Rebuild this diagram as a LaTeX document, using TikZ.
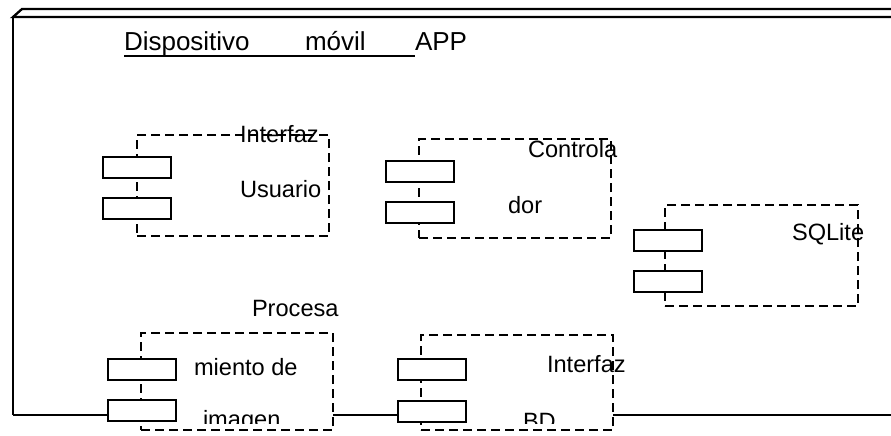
\documentclass[tikz,border=0pt]{standalone}
\usepackage{fontspec}
\setmainfont{Liberation Sans}
\begin{document}
\begin{tikzpicture}[x=1pt,y=-1pt,
  dbox/.style={draw, line width=2.3pt, dash pattern=on 9pt off 5pt, inner sep=0pt, outer sep=0pt, anchor=north west},
  port/.style={draw, line width=2.3pt, fill=white, inner sep=0pt, outer sep=0pt, anchor=north west, minimum width=68pt, minimum height=21pt},
  lbl/.style={inner sep=0pt, outer sep=0pt, anchor=base west, font=\fontsize{23.6}{28}\selectfont},
  ttl/.style={inner sep=0pt, outer sep=0pt, anchor=base west, font=\fontsize{26}{30}\selectfont},
  wire/.style={line width=2.3pt}]
\useasboundingbox (0,0) rectangle (891,436);
% frame
\coordinate (fTL) at (22,9);
\coordinate (fTR) at (891,9);
\coordinate (fIL) at (13,17);
\coordinate (fIR) at (891,17);
\coordinate (fBL) at (13,415);
\coordinate (fBR) at (891,415);
\draw[wire] (fTR) -- (fTL) -- (fIL) -- (fIR);
\draw[wire] (fIL) -- (fBL);
% title
\node[ttl] (t1) at (124,51) {Dispositivo};
\node[ttl] (t2) at (305,51) {móvil};
\node[ttl] (t3) at (415,51) {APP};
\draw[line width=2pt] (124,56) -- (415,56);
% dashed component boxes
\node[dbox, minimum width=192pt, minimum height=101pt] (b1) at (137,135) {};
\node[dbox, minimum width=192pt, minimum height=99pt] (b2) at (419,139) {};
\node[dbox, minimum width=193pt, minimum height=101pt] (b3) at (665,205) {};
\node[dbox, minimum width=192pt, minimum height=97pt] (b4) at (141,333) {};
\node[dbox, minimum width=192pt, minimum height=95pt] (b5) at (421,335) {};
% ports
\node[port] (p1a) at (103,157) {};
\node[port] (p1b) at (103,198) {};
\node[port] (p2a) at (386,161) {};
\node[port] (p2b) at (386,202) {};
\node[port] (p3a) at (634,230) {};
\node[port] (p3b) at (634,271) {};
\node[port] (p4a) at (108,359) {};
\node[port] (p4b) at (108,400) {};
\node[port] (p5a) at (398,359) {};
\node[port] (p5b) at (398,401) {};
% connectors
\draw[wire] (fBL) -- (fBL -| p4b.west);
\draw[wire] (fBL -| b4.east) -- (fBL -| p5b.west);
\draw[wire] (fBL -| b5.east) -- (fBR);
% labels
\node[lbl] (l1a) at (240,142) {Interfaz};
\node[lbl] (l1b) at (240,197) {Usuario};
\node[lbl] (l2a) at (528,157) {Controla};
\node[lbl] (l2b) at (508,213) {dor};
\node[lbl] (l3) at (792,240) {SQLite};
\node[lbl] (l4a) at (252,316) {Procesa};
\node[lbl] (l4b) at (194,375) {miento de};
\node[lbl] (l5a) at (547,372) {Interfaz};
\begin{scope}
\clip (0,0) rectangle (891,423);
\node[lbl] (l4c) at (203,427) {imagen};
\node[lbl] (l5b) at (523,429) {BD};
\end{scope}
\end{tikzpicture}
\end{document}
